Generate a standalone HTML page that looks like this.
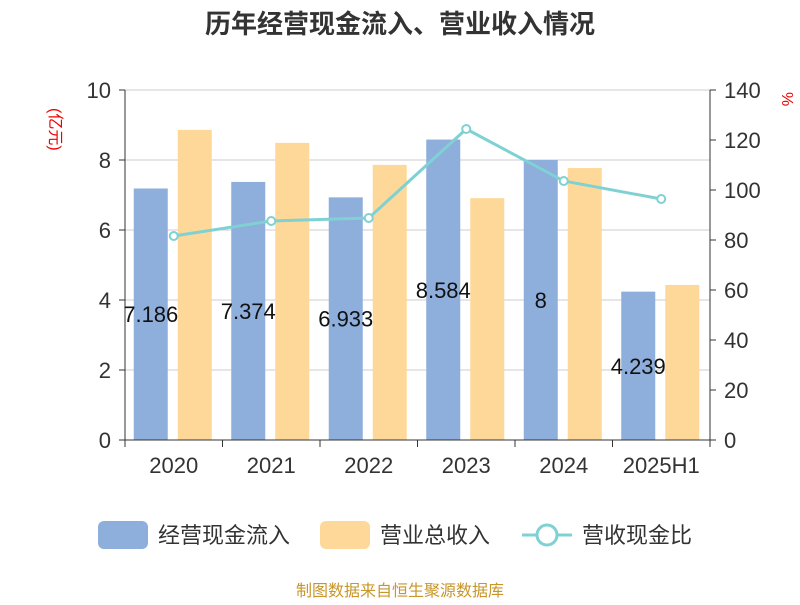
<!DOCTYPE html>
<html><head><meta charset="utf-8"><style>
body{margin:0;background:#fff;}
svg text{font-family:"Liberation Sans","Noto Sans CJK SC",sans-serif;}
</style></head><body>
<svg id="chart" width="800" height="600" xmlns="http://www.w3.org/2000/svg">
<text x="400" y="33" text-anchor="middle" font-size="26" font-weight="bold" fill="#333">历年经营现金流入、营业收入情况</text>
<text x="70" y="112" font-size="16" fill="#e00" transform="rotate(90 62 100)">(亿元)</text>
<text x="782" y="92" font-size="16" fill="#e00" transform="rotate(90 782 92)">%</text>
<g id="grid"></g><g id="bars"></g><g id="labels"></g><g id="bars2"></g><g id="line"></g><g id="axes"></g>
<g>
<rect x="98" y="521" width="50" height="28" rx="6" fill="#8eaedb"/>
<text x="158" y="543" font-size="22" fill="#333">经营现金流入</text>
<rect x="320" y="521" width="50" height="28" rx="6" fill="#fed898"/>
<text x="380" y="543" font-size="22" fill="#333">营业总收入</text>
<line x1="522" y1="535" x2="572" y2="535" stroke="#7fd1d4" stroke-width="3"/>
<circle cx="547" cy="535" r="10" fill="#fff" stroke="#7fd1d4" stroke-width="3"/>
<text x="582" y="543" font-size="22" fill="#333">营收现金比</text>
</g>
<text x="400" y="596" text-anchor="middle" font-size="16" fill="#c8962a">制图数据来自恒生聚源数据库</text>
</svg>
<script>
const categories=["2020","2021","2022","2023","2024","2025H1"];
const inflow=[7.186,7.374,6.933,8.584,8,4.239];
const inflowLabels=["7.186","7.374","6.933","8.584","8","4.239"];
const revenue=[8.86,8.49,7.86,6.91,7.77,4.43];
const ratio=[81.6,87.6,88.8,124.4,103.6,96.4];
const leftTicks=[0,2,4,6,8,10];
const rightTicks=[0,20,40,60,80,100,120,140];
const NS="http://www.w3.org/2000/svg";
const X0=125,X1=710,Y0=440,Y1=90;
const band=(X1-X0)/categories.length;
const xc=i=>X0+band*(i+0.5);
const yL=v=>Y0-(v/10)*(Y0-Y1);
const yR=v=>Y0-(v/140)*(Y0-Y1);
function mk(t,a,p){const e=document.createElementNS(NS,t);for(const k in a)e.setAttribute(k,a[k]);p.appendChild(e);return e;}
const grid=document.getElementById('grid'),bars=document.getElementById('bars'),bars2=document.getElementById('bars2'),labels=document.getElementById('labels'),line=document.getElementById('line'),axes=document.getElementById('axes');
leftTicks.forEach(v=>{
 const g=mk('line',{x1:X0,x2:X1,y1:yL(v),y2:yL(v),stroke:'#ccc','stroke-width':1},grid);
 
 
 const t=mk('text',{x:X0-14,y:yL(v)+8,'text-anchor':'end','font-size':22,fill:'#333'},axes);t.textContent=v;
 
 
 mk('line',{x1:X0-6,x2:X0,y1:yL(v),y2:yL(v),stroke:'#333'},axes);
});
rightTicks.forEach(v=>{
 const t=mk('text',{x:X1+14,y:yR(v)+8,'font-size':22,fill:'#333'},axes);t.textContent=v;
 
 
 mk('line',{x1:X1,x2:X1+6,y1:yR(v),y2:yR(v),stroke:'#333'},axes);
});
mk('line',{x1:X0,x2:X0,y1:Y1,y2:Y0,stroke:'#333'},axes);
mk('line',{x1:X1,x2:X1,y1:Y1,y2:Y0,stroke:'#333'},axes);
mk('line',{x1:X0,x2:X1,y1:Y0,y2:Y0,stroke:'#333'},axes);
for(let i=0;i<=categories.length;i++)mk('line',{x1:X0+band*i,x2:X0+band*i,y1:Y0,y2:Y0+7,stroke:'#333'},axes);
categories.forEach((c,i)=>{
 const t=mk('text',{x:xc(i),y:Y0+33,'text-anchor':'middle','font-size':22,fill:'#333'},axes);t.textContent=c;
 
 
 const b=mk('rect',{x:xc(i)-40,y:yL(inflow[i]),width:34,height:Y0-yL(inflow[i]),fill:'#8eaedb'},bars);
 
 
 const l=mk('text',{x:xc(i)-23,y:(yL(inflow[i])+Y0)/2+8,'text-anchor':'middle','font-size':22,fill:'#111'},labels);l.textContent=inflowLabels[i];
 
 
 const r=mk('rect',{x:xc(i)+4,y:yL(revenue[i]),width:34,height:Y0-yL(revenue[i]),fill:'#fed898'},bars2);
 
 
});
const pts=ratio.map((v,i)=>xc(i)+','+yR(v)).join(' ');
const pl=mk('polyline',{points:pts,fill:'none',stroke:'#7fd1d4','stroke-width':3},line);


ratio.forEach((v,i)=>{
 const c=mk('circle',{cx:xc(i),cy:yR(v),r:4,fill:'#fff',stroke:'#7fd1d4','stroke-width':2},line);
 
 
});
</script>
</body></html>
